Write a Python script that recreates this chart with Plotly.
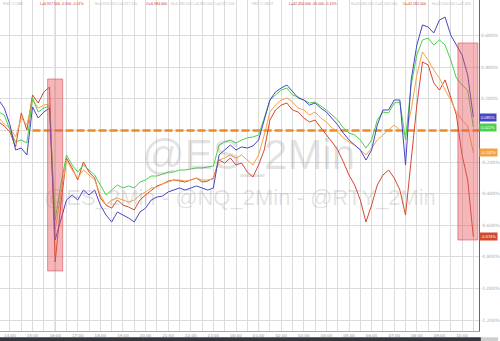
import pandas as pd
import plotly.graph_objects as go

# ---------------- data (percent change) ----------------
start = pd.Timestamp("2025-06-02 13:30")
step_minutes = 15

blue_vals = [0.193, 0.142, 0.035, -0.123, -0.111, -0.155, 0.149, 0.079, 0.117, 0.142,
             -0.693, -0.566, -0.440, -0.408, -0.440, -0.377, -0.408, -0.377, -0.472, -0.535,
             -0.579, -0.516, -0.535, -0.554, -0.579, -0.516, -0.491, -0.440, -0.421, -0.415,
             -0.389, -0.377, -0.364, -0.377, -0.364, -0.351, -0.364, -0.377, -0.364, -0.155,
             -0.123, -0.092, -0.123, -0.104, -0.111, -0.098, -0.060, 0.066, 0.193, 0.244,
             0.269, 0.288, 0.244, 0.206, 0.193, 0.161, 0.174, 0.142, 0.117, 0.079,
             0.035, -0.016, -0.060, -0.092, -0.123, -0.187, -0.123, 0.035, 0.130, 0.130,
             0.193, 0.193, -0.218, 0.320, 0.541, 0.668, 0.655, 0.617, 0.699, 0.718,
             0.604, 0.541, 0.478, 0.351, 0.085]

green_vals = [0.117, 0.098, 0.003, -0.073, -0.060, -0.079, 0.206, 0.117, 0.142, 0.155,
              -0.566, -0.345, -0.155, -0.218, -0.263, -0.218, -0.250, -0.282, -0.345, -0.408,
              -0.377, -0.345, -0.364, -0.351, -0.364, -0.326, -0.313, -0.288, -0.288, -0.275,
              -0.263, -0.263, -0.250, -0.250, -0.244, -0.237, -0.237, -0.231, -0.225, -0.092,
              -0.073, -0.060, -0.079, -0.060, -0.047, -0.041, -0.028, 0.079, 0.193, 0.225,
              0.256, 0.269, 0.225, 0.212, 0.193, 0.174, 0.180, 0.155, 0.130, 0.098,
              0.066, 0.016, -0.016, -0.028, -0.060, -0.111, -0.060, 0.066, 0.117, 0.111,
              0.174, 0.180, -0.060, 0.288, 0.478, 0.573, 0.585, 0.541, 0.573, 0.541,
              0.446, 0.332, 0.288, 0.256, 0.022]

orange_vals = [0.079, 0.041, 0.016, -0.041, 0.079, 0.035, 0.193, 0.142, 0.161, 0.168,
               -0.630, -0.408, -0.187, -0.250, -0.301, -0.250, -0.282, -0.313, -0.408, -0.472,
               -0.440, -0.427, -0.440, -0.453, -0.440, -0.408, -0.389, -0.364, -0.358, -0.339,
               -0.326, -0.313, -0.313, -0.320, -0.313, -0.301, -0.313, -0.313, -0.307, -0.187,
               -0.174, -0.155, -0.174, -0.155, -0.187, -0.218, -0.155, -0.028, 0.117, 0.161,
               0.193, 0.206, 0.180, 0.142, 0.130, 0.098, 0.117, 0.079, 0.054, 0.016,
               -0.009, -0.047, -0.073, -0.092, -0.123, -0.155, -0.111, -0.060, -0.028, 0.003,
               0.035, 0.003, -0.028, 0.130, 0.351, 0.497, 0.446, 0.383, 0.332, 0.256,
               0.193, 0.117, 0.066, 0.028, -0.142]

red_vals = [0.054, 0.028, -0.009, -0.104, 0.111, 0.003, 0.225, 0.174, 0.244, 0.275,
            -0.832, -0.472, -0.174, -0.237, -0.313, -0.199, -0.263, -0.301, -0.427, -0.472,
            -0.491, -0.440, -0.472, -0.484, -0.503, -0.440, -0.408, -0.377, -0.351, -0.339,
            -0.320, -0.313, -0.320, -0.326, -0.313, -0.301, -0.326, -0.320, -0.301, -0.187,
            -0.206, -0.174, -0.218, -0.206, -0.263, -0.294, -0.218, -0.123, 0.066, 0.130,
            0.161, 0.174, 0.130, 0.117, 0.079, 0.054, 0.066, 0.016, -0.028, -0.073,
            -0.123, -0.199, -0.282, -0.345, -0.440, -0.579, -0.472, -0.345, -0.282, -0.250,
            -0.301, -0.377, -0.535, -0.187, 0.161, 0.434, 0.415, 0.301, 0.256, 0.320,
            0.212, 0.098, -0.155, -0.313, -0.674]

series_names = ["RTY", "YM", "ES", "NQ"]
series_colors = ["#d4492c", "#f4a24a", "#4ccf4c", "#4747c4"]
series_values = [red_vals, orange_vals, green_vals, blue_vals]

ref_level = 0.0
ref_start = pd.Timestamp("2025-06-02 15:00")

highlights = [
    (pd.Timestamp("2025-06-02 15:40"), pd.Timestamp("2025-06-02 16:20"), 0.326, -0.889),
    (pd.Timestamp("2025-06-03 09:49"), pd.Timestamp("2025-06-03 10:42"), 0.554, -0.693),
]

y_ticks = [-1.2, -1.0, -0.8, -0.6, -0.4, -0.2, 0.0, 0.2, 0.4, 0.6]
y_tick_labels = ["-1.200%", "-1.000%", "-0.800%", "-0.600%", "-0.400%", "-0.200%", "",
                 "0.200%", "0.400%", "0.600%"]

header_texts = [
    "ES1! 2 CME", "L=6,917.500 -0.500 -0.01%", "H=6,918.250 C=6,917.250", "O=6,984.000",
    "H=6,985.500 L=6,905.000 C=6,917.500",
    "YM1! 2 CBOT", "L=42,450.000 -65.000 -0.15%", "H=42,460.000 C=42,450.000", "O=42,262.000",
    "H=42,520.000 L=42,440",
]
header_colors = ["#bbbbbb", "#c0392b", "#bbbbbb", "#c0392b", "#bbbbbb",
                 "#bbbbbb", "#c0392b", "#bbbbbb", "#c0392b", "#bbbbbb"]
header_x_px = [1, 38, 93, 145, 170, 250, 288, 350, 403, 432]

# ---------------- figure ----------------
n = len(blue_vals)
times = pd.date_range(start, periods=n, freq=f"{step_minutes}min")

fig = go.Figure()

x0 = pd.Timestamp("2025-06-02 13:33:36")
x1 = pd.Timestamp("2025-06-03 10:45")

for (a, b, top, bot) in highlights:
    fig.add_shape(type="rect", xref="x", yref="y", x0=a, x1=b, y0=bot, y1=top,
                  fillcolor="rgba(232,80,90,0.42)", line=dict(color="rgba(215,70,80,0.55)", width=1),
                  layer="above")

fig.add_trace(go.Scatter(x=[ref_start, x1], y=[ref_level, ref_level], mode="lines",
                         line=dict(color="#f08a1c", width=2.6, dash="8px,3px"),
                         hoverinfo="skip", showlegend=False))

for name, col, vals in zip(series_names, series_colors, series_values):
    fig.add_trace(go.Scatter(x=times, y=vals, mode="lines", name=name,
                             line=dict(color=col, width=1), showlegend=False))

# endpoint value boxes
for name, col, vals in zip(series_names, series_colors, series_values):
    fig.add_annotation(x=1, xref="paper", xanchor="left", xshift=0, y=vals[-1], yref="y",
                       text=f"{vals[-1]:.3f}%", showarrow=False,
                       font=dict(size=4, color="white", family="Liberation Sans"),
                       bgcolor=col, borderpad=1)

# watermarks
fig.add_annotation(x=0.518, y=0.532, xref="paper", yref="paper", text="@ES_2Min", showarrow=False,
                   font=dict(size=42, color="rgba(130,130,130,0.22)", family="Liberation Sans"))
fig.add_annotation(x=0.5, y=0.402, xref="paper", yref="paper",
                   text="@ES_2Min - @NQ_2Min - @RTY_2Min", showarrow=False,
                   font=dict(size=22, color="rgba(130,130,130,0.22)", family="Liberation Sans"))

# header texts
for txt, col, xp in zip(header_texts, header_colors, header_x_px):
    fig.add_annotation(x=xp / 481, y=1, xref="paper", yref="paper", xanchor="left",
                       yanchor="top", text=txt, showarrow=False,
                       font=dict(size=3.6, color=col, family="Liberation Sans"))

# darker session separators
for sep in [pd.Timestamp("2025-06-02 16:00"), pd.Timestamp("2025-06-03 01:00")]:
    fig.add_shape(type="line", xref="x", yref="paper", x0=sep, x1=sep, y0=0, y1=1,
                  line=dict(color="#b5b5b5", width=1), layer="below")

# bottom dark bar
fig.add_shape(type="rect", xref="paper", yref="paper", x0=0, x1=1.004, y0=-0.031, y1=-0.019,
              fillcolor="#34383e", line=dict(width=0))
fig.add_shape(type="rect", xref="paper", yref="paper", x0=1.004, x1=1.04, y0=-0.031, y1=-0.019,
              fillcolor="#cfcfcf", line=dict(width=0))

hour_ticks = pd.date_range("2025-06-02 14:00", "2025-06-03 10:00", freq="60min")
half_ticks = pd.date_range("2025-06-02 13:30", "2025-06-03 10:30", freq="30min")

fig.update_layout(
    width=500, height=341,
    margin=dict(l=0, r=19, t=0, b=10),
    paper_bgcolor="white", plot_bgcolor="white",
    xaxis=dict(range=[x0, x1], tickmode="array", tickvals=list(hour_ticks),
               tickformat="%H:%M", tickfont=dict(size=4, color="#999999", family="DejaVu Sans"),
               showgrid=True, gridcolor="#dcdcdc", gridwidth=1,
               minor=dict(tickmode="array", tickvals=list(half_ticks), showgrid=True,
                          gridcolor="#dcdcdc", gridwidth=1),
               showline=True, linecolor="#aaaaaa", linewidth=1, ticks="", zeroline=False,
               ticklabelstandoff=0),
    yaxis=dict(range=[-1.269, 0.826], side="right", tickmode="array", tickvals=y_ticks,
               ticktext=y_tick_labels,
               tickfont=dict(size=4.5, color="#aaaaaa", family="DejaVu Sans"),
               showgrid=True, gridcolor="#dcdcdc", gridwidth=1, zeroline=False,
               showline=True, linecolor="#666666", linewidth=1, ticks=""),
)

fig.write_html("out.html")
